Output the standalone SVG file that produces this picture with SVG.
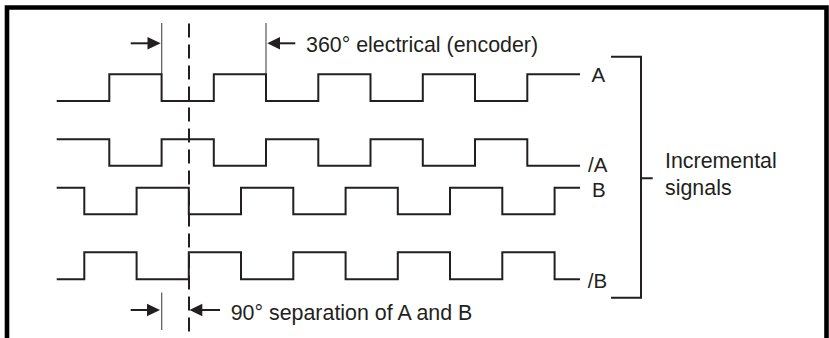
<svg xmlns="http://www.w3.org/2000/svg" width="829" height="338" viewBox="0 0 829 338">
  <style>
    .wave { fill: none; stroke: #231f20; stroke-width: 2; stroke-linejoin: miter; }
    .ext { fill: none; stroke: #555; stroke-width: 1.2; }
    .dash { fill: none; stroke: #231f20; stroke-width: 2; stroke-dasharray: 14 7; }
    .arr { fill: none; stroke: #231f20; stroke-width: 2; }
    .head { fill: #231f20; stroke: none; }
    .br { fill: none; stroke: #231f20; stroke-width: 2; }
    text { font-family: "Liberation Sans", Arial, sans-serif; font-size: 21.4px; fill: #231f20; }
    .lbl { font-size: 20.5px; }
  </style>
  <rect width="829" height="338" fill="#ffffff"/>
  <path d="M7,345 V7.5 H826.5 V345" fill="none" stroke="#000" stroke-width="4.6"/>

  <g id="connectors">
    <line class="dash" x1="189" y1="23.5" x2="189" y2="345"/>
    <line class="ext" x1="161.7" y1="23" x2="161.7" y2="74"/>
    <line class="ext" x1="266" y1="23" x2="266" y2="74"/>
    <line class="ext" x1="161.7" y1="292.5" x2="161.7" y2="330"/>
    <!-- top dimension arrows -->
    <line class="arr" x1="130.7" y1="43.3" x2="150" y2="43.3"/>
    <polygon class="head" points="160.7,43.3 147.5,37 147.5,49.6"/>
    <line class="arr" x1="277" y1="43.3" x2="295.3" y2="43.3"/>
    <polygon class="head" points="267.3,43.3 280,37 280,49.6"/>
    <!-- bottom dimension arrows -->
    <line class="arr" x1="130.7" y1="310" x2="149" y2="310"/>
    <polygon class="head" points="160,310 147,303.7 147,316.3"/>
    <line class="arr" x1="200" y1="310" x2="220" y2="310"/>
    <polygon class="head" points="189.5,310 202.3,303.7 202.3,316.3"/>
    <!-- bracket -->
    <path class="br" d="M611,56.7 H641 V297.7 H611 M641,178.3 H652.7"/>
  </g>

  <g id="signal-A">
    <path class="wave" d="M56.7,101 H109.3 V74.3 H161.6 V101 H213.8 V74.3 H266 V101 H318.3 V74.3 H370.5 V101 H422.8 V74.3 H475 V101 H527.3 V74.3 H580"/>
    <text class="lbl" x="591.5" y="81.7">A</text>
  </g>
  <g id="signal-nA">
    <path class="wave" d="M56.7,139.3 H109.3 V165.7 H161.6 V139.3 H213.8 V165.7 H266 V139.3 H318.3 V165.7 H370.5 V139.3 H422.8 V165.7 H475 V139.3 H527.3 V165.7 H580"/>
    <text class="lbl" x="588" y="172.3">/A</text>
  </g>
  <g id="signal-B">
    <path class="wave" d="M56.7,187.7 H84.3 V214.3 H136.6 V187.7 H188.8 V214.3 H241 V187.7 H293.3 V214.3 H345.6 V187.7 H397.8 V214.3 H450 V187.7 H502.3 V214.3 H554.6 V187.7 H580"/>
    <text class="lbl" x="592" y="196.7">B</text>
  </g>
  <g id="signal-nB">
    <path class="wave" d="M56.7,279.3 H84.3 V252.3 H136.6 V279.3 H188.8 V252.3 H241 V279.3 H293.3 V252.3 H345.6 V279.3 H397.8 V252.3 H450 V279.3 H502.3 V252.3 H554.6 V279.3 H580"/>
    <text class="lbl" x="587.7" y="288.3">/B</text>
  </g>

  <g id="label-360">
    <text x="306" y="51.7">360° electrical (encoder)</text>
  </g>
  <g id="label-90">
    <text x="230.7" y="320">90° separation of A and B</text>
  </g>
  <g id="label-incremental">
    <text x="665" y="167.5">Incremental</text>
    <text x="665" y="194.5">signals</text>
  </g>
</svg>
